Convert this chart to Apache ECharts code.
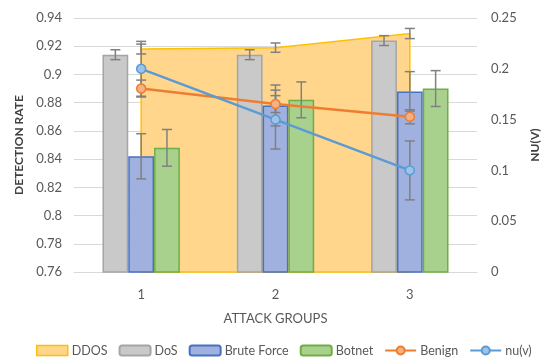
<!DOCTYPE html>
<html>
<head>
<meta charset="utf-8">
<script src="https://cdn.jsdelivr.net/npm/echarts@6/dist/echarts.min.js"></script>
<style>
  html, body { margin: 0; padding: 0; background: #ffffff; }
  #chart { width: 549px; height: 358px; }
</style>
</head>
<body>
<div id="chart"></div>
<script>
// Attack groups on the category axis
const groups = ['1', '2', '3'];

// Detection rate per attack type (left axis) and its error half-widths
const ddos = [0.918, 0.919, 0.929];
const ddosErr = [0.0035, 0.0033, 0.0036];
const dos = [0.914, 0.914, 0.924];
const dosErr = [0.0035, 0.0035, 0.0035];
const bruteForce = [0.842, 0.878, 0.888];
const bruteForceErr = [0.016, 0.0145, 0.014];
const botnet = [0.848, 0.882, 0.890];
const botnetErr = [0.013, 0.0127, 0.0127];
const benign = [0.890, 0.879, 0.870];
const benignErr = [0.006, 0.006, 0.005];

// nu(v) parameter (right axis) and its error half-widths
const nu = [0.20, 0.15, 0.10];
const nuErr = [0.027, 0.029, 0.029];

// Axis scales
const leftAxis = { min: 0.76, max: 0.94, step: 0.02 };
const rightAxis = { min: 0, max: 0.25, step: 0.05 };

const FONT = 'Lato, "Open Sans", sans-serif';
const TEXT = '#595959';
const BAR_FRAC = 0.192; // bar width as a share of the category band

function errorSeries(name, vals, errs, slot, yAxisIndex) {
  return {
    type: 'custom',
    name: name,
    yAxisIndex: yAxisIndex,
    z: 3,
    silent: true,
    data: vals.map((v, i) => [i, v - errs[i], v + errs[i]]),
    encode: { x: 0, y: [1, 2] },
    renderItem: function (params, api) {
      const i = api.value(0);
      const band = api.size([1, 0])[0];
      const dx = slot * band * BAR_FRAC;
      const lo = api.coord([i, api.value(1)]);
      const hi = api.coord([i, api.value(2)]);
      const x = lo[0] + dx;
      const cap = 5;
      const style = { stroke: '#808080', lineWidth: 1.5 };
      return {
        type: 'group',
        children: [
          { type: 'line', shape: { x1: x, y1: hi[1], x2: x, y2: lo[1] }, style: style },
          { type: 'line', shape: { x1: x - cap, y1: hi[1], x2: x + cap, y2: hi[1] }, style: style },
          { type: 'line', shape: { x1: x - cap, y1: lo[1], x2: x + cap, y2: lo[1] }, style: style }
        ]
      };
    }
  };
}

const chart = echarts.init(document.getElementById('chart'), null, { renderer: 'canvas' });

chart.setOption({
  animation: false,
  backgroundColor: '#ffffff',
  textStyle: { fontFamily: FONT },
  grid: { left: 74, right: 61, top: 18, bottom: 86 },
  legend: {
    top: 339,
    left: 31,
    itemWidth: 31,
    itemHeight: 10,
    itemGap: 11,
    textStyle: { fontSize: 12.5, color: TEXT, fontFamily: FONT, padding: [0, 0, 0, -1] },
    data: [
      { name: 'DDOS', icon: 'rect', itemStyle: { color: '#FFD68C', borderColor: '#FFC000', borderWidth: 1.5 } },
      'DoS', 'Brute Force', 'Botnet', 'Benign', 'nu(v)'
    ]
  },
  xAxis: {
    type: 'category',
    data: groups,
    boundaryGap: true,
    axisTick: { show: false },
    axisLine: { lineStyle: { color: '#D9D9D9', width: 1 } },
    axisLabel: { color: TEXT, fontSize: 13, margin: 16, fontFamily: FONT },
    name: 'ATTACK GROUPS',
    nameLocation: 'middle',
    nameGap: 40,
    nameTextStyle: { color: TEXT, fontSize: 13, fontFamily: FONT }
  },
  yAxis: [
    {
      type: 'value',
      min: leftAxis.min,
      max: leftAxis.max,
      interval: leftAxis.step,
      axisLine: { show: false },
      axisTick: { show: false },
      axisLabel: { color: TEXT, fontSize: 13, margin: 12, fontFamily: FONT },
      splitLine: { lineStyle: { color: '#D9D9D9', width: 1 } },
      name: 'DETECTION RATE',
      nameLocation: 'middle',
      nameRotate: 90,
      nameGap: 42,
      nameTextStyle: { color: '#404040', fontSize: 12, fontWeight: 'bold', fontFamily: FONT }
    },
    {
      type: 'value',
      min: rightAxis.min,
      max: rightAxis.max,
      interval: rightAxis.step,
      axisLine: { show: false },
      axisTick: { show: false },
      axisLabel: { color: TEXT, fontSize: 13, margin: 14, fontFamily: FONT },
      splitLine: { show: false },
      name: 'NU(V)',
      nameLocation: 'middle',
      nameRotate: 90,
      nameGap: 52,
      nameTextStyle: { color: '#404040', fontSize: 12, fontWeight: 'bold', fontFamily: FONT }
    }
  ],
  series: [
    {
      // DDOS drawn as a filled area spanning the groups
      type: 'custom',
      name: 'DDOS',
      z: 1,
      silent: true,
      itemStyle: { color: '#FFD68C' },
      data: ddos.map((v, i) => [i, v]),
      encode: { x: 0, y: 1 },
      renderItem: function (params, api) {
        if (params.dataIndex !== 0) return null;
        const pts = ddos.map((v, i) => api.coord([i, v]));
        const last = ddos.length - 1;
        pts.push(api.coord([last, leftAxis.min]));
        pts.push(api.coord([0, leftAxis.min]));
        return {
          type: 'polygon',
          shape: { points: pts },
          style: { fill: '#FFD68C', stroke: '#FFC000', lineWidth: 1.5 }
        };
      }
    },
    {
      type: 'bar', name: 'DoS', data: dos, z: 2,
      barWidth: (BAR_FRAC * 100) + '%', barGap: '0%',
      itemStyle: { color: '#C9C9C9', borderColor: '#A5A5A5', borderWidth: 1.5 }
    },
    {
      type: 'bar', name: 'Brute Force', data: bruteForce, z: 2,
      barWidth: (BAR_FRAC * 100) + '%', barGap: '0%',
      itemStyle: { color: '#A0B1DF', borderColor: '#4472C4', borderWidth: 1.5 }
    },
    {
      type: 'bar', name: 'Botnet', data: botnet, z: 2,
      barWidth: (BAR_FRAC * 100) + '%', barGap: '0%',
      itemStyle: { color: '#A9D18E', borderColor: '#70AD47', borderWidth: 1.5 }
    },
    errorSeries('DDOS range', ddos, ddosErr, 0, 0),
    errorSeries('DoS range', dos, dosErr, -1, 0),
    errorSeries('Brute Force range', bruteForce, bruteForceErr, 0, 0),
    errorSeries('Botnet range', botnet, botnetErr, 1, 0),
    errorSeries('Benign range', benign, benignErr, 0, 0),
    errorSeries('nu(v) range', nu, nuErr, 0, 1),
    {
      type: 'line', name: 'Benign', data: benign, yAxisIndex: 0, z: 4,
      symbol: 'circle', symbolSize: 9,
      lineStyle: { color: '#ED7D31', width: 2.5 },
      itemStyle: { color: '#F4B183', borderColor: '#ED7D31', borderWidth: 1.5 }
    },
    {
      type: 'line', name: 'nu(v)', data: nu, yAxisIndex: 1, z: 4,
      symbol: 'circle', symbolSize: 9,
      lineStyle: { color: '#5B9BD5', width: 2.5 },
      itemStyle: { color: '#9DC3E6', borderColor: '#5B9BD5', borderWidth: 1.5 }
    }
  ]
});
</script>
</body>
</html>
